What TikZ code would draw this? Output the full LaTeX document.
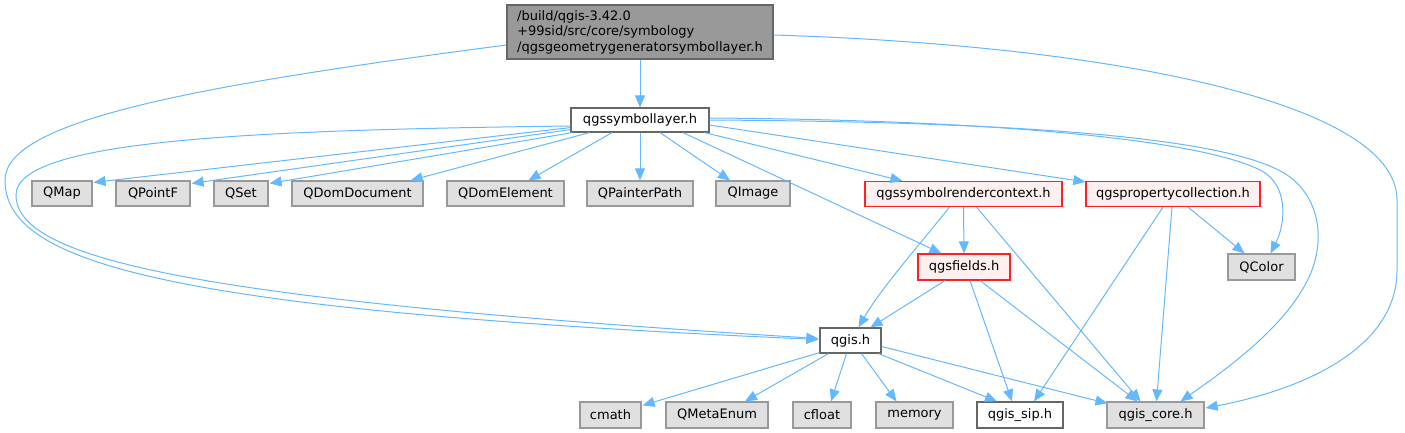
\documentclass[tikz,border=0pt]{standalone}
\usepackage{fontspec}
\setmainfont{DejaVu Sans}
\usetikzlibrary{arrows.meta,calc}
\definecolor{edgec}{HTML}{63B8FF}
\definecolor{grayfill}{HTML}{E0E0E0}
\definecolor{graydraw}{HTML}{999999}
\definecolor{redfill}{HTML}{FFF0F0}
\definecolor{reddraw}{HTML}{FF2020}
\definecolor{darkdraw}{HTML}{666666}
\definecolor{topfill}{HTML}{999999}
\begin{document}
\begin{tikzpicture}[x=1pt,y=-1pt,
  box/.style={draw, line width=1.2pt, minimum height=25pt, inner sep=0pt, anchor=center,
    font=\fontsize{13}{15.5}\selectfont},
  grayb/.style={box, fill=grayfill, draw=graydraw},
  redb/.style={box, fill=redfill, draw=reddraw},
  whiteb/.style={box, fill=white, draw=darkdraw},
  topb/.style={box, fill=topfill, draw=darkdraw, align=left},
  e/.style={draw=edgec, line width=1pt, -{Triangle[length=12pt,width=10pt]}}
]
\useasboundingbox (0,0) rectangle (1405,432);

% nodes
\node[topb, minimum width=266pt, minimum height=54pt] (top) at (640,32)
  {/build/qgis-3.42.0\\+99sid/src/core/symbology\\/qgsgeometrygeneratorsymbollayer.h};
\node[whiteb, minimum width=138pt, minimum height=24pt] (sl) at (640,120) {qgssymbollayer.h};

\node[grayb, minimum width=60pt] (qmap) at (62,193.5) {QMap};
\node[grayb, minimum width=74pt] (qpointf) at (153,193.5) {QPointF};
\node[grayb, minimum width=54pt] (qset) at (241,193.5) {QSet};
\node[grayb, minimum width=131pt] (qdomdoc) at (357.5,193.5) {QDomDocument};
\node[grayb, minimum width=117pt] (qdomel) at (505.5,193.5) {QDomElement};
\node[grayb, minimum width=106pt] (qpp) at (640,193.5) {QPainterPath};
\node[grayb, minimum width=74pt] (qimage) at (753,193.5) {QImage};
\node[redb, minimum width=197pt] (rctx) at (963.5,194) {qgssymbolrendercontext.h};
\node[redb, minimum width=174pt] (pcoll) at (1173,194) {qgspropertycollection.h};

\node[grayb, minimum width=67pt, minimum height=26pt] (qcolor) at (1261.5,267) {QColor};
\node[redb, minimum width=92pt, minimum height=26pt] (fields) at (964,267) {qgsfields.h};

\node[whiteb, minimum width=61pt] (qgis) at (850.5,340.5) {qgis.h};

\node[grayb, minimum width=61pt, minimum height=26pt] (cmath) at (610.5,415) {cmath};
\node[grayb, minimum width=102pt, minimum height=26pt] (qmeta) at (717,415) {QMetaEnum};
\node[grayb, minimum width=58pt, minimum height=26pt] (cfloat) at (822,415) {cfloat};
\node[grayb, minimum width=77pt, minimum height=26pt] (memory) at (914.5,415) {memory};
\node[whiteb, minimum width=86pt, minimum height=26pt] (sip) at (1020,415) {qgis\_sip.h};
\node[grayb, minimum width=97pt, minimum height=26pt] (core) at (1155.5,415) {qgis\_core.h};

% edges from top
\draw[e] (top.south) -- (sl.north);
\draw[e] ($(top.west)+(0,13)$) .. controls (200,85) and (5,120) .. (5,180)
  .. controls (5,260) and (150,310) .. ($(qgis.west)+(-1,-1)$);
\draw[e] ($(top.east)+(0,3)$) .. controls (1100,45) and (1397,100) .. (1397,200)
  -- (1397,270) .. controls (1397,350) and (1300,390) .. ($(core.east)+(1,-7)$);

% edges from qgssymbollayer.h
\draw[e] ($(sl.south west)+(0,-5)$) -- ($(qmap.north east)+(1,2)$);
\draw[e] ($(sl.south west)+(0,-3)$) -- ($(qpointf.north east)+(1,3)$);
\draw[e] ($(sl.south west)+(2,0)$) -- ($(qset.north east)+(1,3)$);
\draw[e] ($(sl.south west)+(19,0)$) -- ($(qdomdoc.north east)+(-13,0)$);
\draw[e] ($(sl.south)+(-28,0)$) -- ($(qdomel.north)+(23,0)$);
\draw[e] (sl.south) -- (qpp.north);
\draw[e] ($(sl.south)+(20,0)$) -- ($(qimage.north)+(-23,0)$);
\draw[e] ($(sl.south)+(43,0)$) -- ($(fields.north west)+(24,0)$);
\draw[e] ($(sl.south east)+(-5,0)$) -- ($(rctx.north west)+(38,0)$);
\draw[e] ($(sl.east)+(0,5)$) -- ($(pcoll.north west)+(0,1)$);
\draw[e] ($(sl.east)+(0,-2)$) .. controls (1000,120) and (1200,140) .. (1260,170)
  .. controls (1290,185) and (1285,225) .. ($(qcolor.north)+(9,0)$);
\draw[e] ($(sl.east)+(0,0)$) .. controls (1050,122) and (1240,140) .. (1290,177)
  .. controls (1320,200) and (1325,240) .. (1310,275)
  .. controls (1290,320) and (1240,360) .. ($(core.north)+(25,0)$);
\draw[e] ($(sl.west)+(0,6)$) .. controls (250,130) and (16,140) .. (16,195)
  .. controls (16,260) and (200,300) .. ($(qgis.west)+(-1,-2)$);

% qgssymbolrendercontext.h
\draw[e] (rctx.south) -- (fields.north);
\draw[e] ($(rctx.south)+(-14,0)$) .. controls (915,250) and (880,290) .. ($(qgis.north)+(8,0)$);
\draw[e] ($(rctx.south)+(13,0)$) -- ($(core.north)+(-15,0)$);

% qgspropertycollection.h
\draw[e] ($(pcoll.south)+(15,0)$) -- ($(qcolor.north)+(-17,0)$);
\draw[e] ($(pcoll.south)+(-1,0)$) -- ($(core.north)+(1,0)$);
\draw[e] ($(pcoll.south)+(-10,0)$) -- ($(sip.north)+(14,0)$);

% qgsfields.h
\draw[e] ($(fields.south)+(-19,0)$) -- ($(qgis.north)+(20,0)$);
\draw[e] ($(fields.south)+(6,0)$) -- ($(sip.north)+(-8,0)$);
\draw[e] ($(fields.south)+(16,0)$) -- ($(core.north)+(-18,0)$);

% qgis.h
\draw[e] ($(qgis.south west)+(0,-1)$) -- ($(cmath.north east)+(1,4)$);
\draw[e] ($(qgis.south west)+(9,0)$) -- ($(qmeta.north)+(28,0)$);
\draw[e] ($(qgis.south)+(-4,0)$) -- ($(cfloat.north)+(9,0)$);
\draw[e] ($(qgis.south)+(11,0)$) -- ($(memory.north)+(-18,0)$);
\draw[e] ($(qgis.south east)+(-3,0)$) -- ($(sip.north)+(-23,0)$);
\draw[e] ($(qgis.east)+(0,6)$) -- ($(core.north west)+(1,2)$);
\end{tikzpicture}
\end{document}
